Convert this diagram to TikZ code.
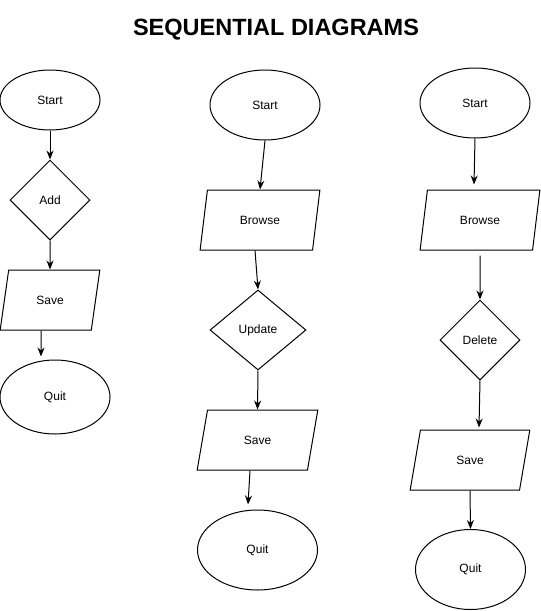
\documentclass[tikz,border=0pt]{standalone}
\usepackage{fontspec}
\setmainfont{Liberation Sans}
\usepackage{tikz}
\usetikzlibrary{shapes.geometric}
\usetikzlibrary{arrows.meta}

\begin{document}
\begin{tikzpicture}[x=1pt,y=-1pt,line width=1pt,
  terminal/.style={ellipse,draw,font=\fontsize{12}{14}\selectfont,inner sep=0pt},
  decision/.style={diamond,draw,font=\fontsize{12}{14}\selectfont,inner sep=0pt},
  iobox/.style={trapezium,draw,font=\fontsize{12}{14}\selectfont,inner sep=0pt,
    trapezium left angle=71.57,trapezium right angle=108.43,trapezium stretches=true},
  flow/.style={-{Stealth[length=9pt,width=7pt]}}]
\useasboundingbox (0,0) rectangle (541,611);
\node[font=\fontsize{23.5}{26}\selectfont\bfseries] (title) at (276,30) {SEQUENTIAL DIAGRAMS};

% first column
\node[terminal,minimum width=100pt,minimum height=60pt] (start1) at (50,100) {Start};
\node[decision,minimum width=80pt,minimum height=80pt] (add) at (50,200) {Add};
\node[iobox,minimum width=100pt,minimum height=60pt] (save1) at (50,300) {Save};
\node[terminal,minimum width=110pt,minimum height=74pt] (quit1) at (55,397) {Quit};
\draw[flow] (start1.south) -- (add.north);
\draw[flow] (add.south) -- (save1.north);
\draw[flow] ([xshift=-9pt]save1.south) -- ([xshift=-14pt,yshift=3pt]quit1.north);

% second column
\node[terminal,minimum width=110pt,minimum height=70pt] (start2) at (265,105) {Start};
\node[iobox,minimum width=120pt,minimum height=60pt] (browse2) at (260,220) {Browse};
\node[decision,minimum width=96pt,minimum height=80pt] (update) at (258,330) {Update};
\node[iobox,minimum width=121pt,minimum height=60pt] (save2) at (257.5,440) {Save};
\node[terminal,minimum width=120pt,minimum height=80pt] (quit2) at (257.5,550) {Quit};
\draw[flow] (start2.south) -- (browse2.north);
\draw[flow] ([xshift=-5pt]browse2.south) -- (update.north);
\draw[flow] (update.south) -- (save2.north);
\draw[flow] ([xshift=-7.5pt]save2.south) -- ([xshift=-9.5pt,yshift=5pt]quit2.north);

% third column
\node[terminal,minimum width=110pt,minimum height=70pt] (start3) at (475,103) {Start};
\node[iobox,minimum width=120pt,minimum height=60pt] (browse3) at (480,220) {Browse};
\node[decision,minimum width=80pt,minimum height=80pt] (delete) at (480,340) {Delete};
\node[iobox,minimum width=120pt,minimum height=60pt] (save3) at (470,460) {Save};
\node[terminal,minimum width=110pt,minimum height=80pt] (quit3) at (470.5,569.5) {Quit};
\draw[flow] (start3.south) -- ([xshift=-6pt,yshift=5pt]browse3.north);
\draw[flow] ([yshift=-5pt]browse3.south) -- (delete.north);
\draw[flow] (delete.south) -- ([xshift=9pt,yshift=2pt]save3.north);
\draw[flow] (save3.south) -- (quit3.north);

\end{tikzpicture}
\end{document}
